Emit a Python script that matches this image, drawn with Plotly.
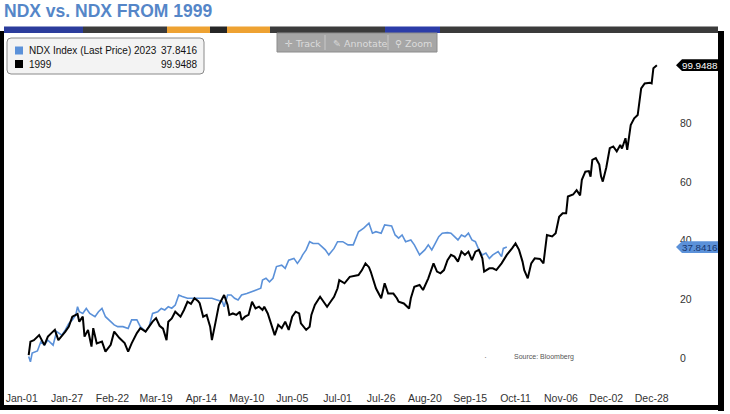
import plotly.graph_objects as go
from datetime import datetime

# ---------------- data ----------------
title_text = "NDX vs. NDX FROM 1999"
tick_labels = ["Jan-01", "Jan-27", "Feb-22", "Mar-19", "Apr-14", "May-10", "Jun-05",
               "Jul-01", "Jul-26", "Aug-20", "Sep-15", "Oct-11", "Nov-06", "Dec-02", "Dec-28"]
axis_year = 1999
y_ticks = [0, 20, 40, 60, 80]

series_names = ["NDX Index (Last Price) 2023", "1999"]
last_2023 = 37.8416
last_1999 = 99.9488

# day of year (0 = Jan-01) and % change from start
days_1999 = [4, 5, 7, 10, 13, 15, 17, 19, 21, 23, 25, 27, 29, 31, 32, 33, 35, 36, 38, 40,
             41, 43, 46, 48, 51, 53, 56, 59, 61, 63, 66, 68, 71, 73, 75, 77, 79, 81, 83, 84,
             86, 88, 91, 93, 95, 97, 99, 101, 102, 104, 106, 108, 109, 111, 113, 116, 118, 119, 121, 123,
             125, 126, 128, 130, 132, 134, 136, 138, 139, 141, 143, 145, 147, 149, 151, 153, 155, 157, 159, 160,
             163, 165, 166, 168, 171, 173, 175, 177, 179, 181, 182, 185, 188, 193, 195, 197, 199, 200, 202, 203,
             206, 208, 210, 213, 215, 216, 219, 222, 223, 225, 228, 230, 233, 236, 238, 240, 242, 244, 246, 248,
             250, 252, 254, 256, 258, 260, 262, 264, 265, 268, 270, 272, 275, 278, 281, 283, 285, 287, 288, 290,
             292, 294, 297, 299, 301, 304, 306, 308, 310, 312, 313, 316, 318, 320, 321, 323, 325, 326, 327, 329,
             331, 332, 333, 335, 337, 339, 341, 343, 344, 346, 347, 349, 351, 353, 355, 357, 360, 361, 362, 364]
vals_1999 = [1.0, 5.6, 6.1, 7.8, 4.4, 7.3, 8.5, 9.6, 6.1, 7.5, 9.0, 10.7, 14.1, 14.7, 15.0, 12.4, 14.1, 7.3, 9.6, 3.9,
             10.2, 5.0, 5.6, 2.2, 4.5, 9.0, 6.8, 5.1, 2.2, 5.0, 8.5, 10.2, 9.0, 10.7, 12.4, 13.6, 11.0, 10.0, 6.1, 12.4,
             13.5, 15.8, 14.1, 16.4, 19.2, 18.5, 20.4, 19.5, 18.7, 14.1, 14.7, 10.7, 6.1, 12.0, 18.1, 21.5, 18.1, 14.7, 15.2, 14.7,
             15.8, 13.0, 14.1, 14.7, 19.2, 16.9, 17.5, 16.4, 17.5, 15.2, 11.8, 7.8, 11.3, 10.2, 12.4, 9.6, 14.1, 15.8, 15.2, 11.8,
             9.6, 10.7, 14.7, 18.1, 20.9, 19.2, 17.5, 19.2, 20.9, 23.8, 26.6, 25.5, 27.7, 28.3, 30.0, 32.3, 31.0, 29.5, 26.0, 23.8,
             20.4, 25.5, 22.0, 22.0, 20.4, 19.2, 18.6, 16.9, 20.4, 24.3, 24.9, 23.2, 27.2, 32.3, 29.5, 28.9, 30.0, 33.4, 35.2, 34.6,
             32.9, 36.3, 35.2, 36.3, 33.4, 36.3, 36.9, 34.0, 29.5, 30.6, 30.6, 30.0, 32.3, 35.2, 37.4, 39.1, 36.9, 32.9, 30.0, 27.2,
             32.3, 34.0, 33.8, 32.3, 42.0, 41.5, 42.6, 48.2, 49.4, 49.4, 55.1, 55.8, 57.3, 55.5, 60.8, 63.6, 63.8, 61.9, 67.6, 68.2,
             66.0, 62.0, 60.2, 65.0, 71.6, 72.2, 70.5, 72.7, 71.5, 75.0, 71.0, 79.5, 81.8, 82.9, 92.0, 93.7, 93.9, 93.7, 98.9, 99.9488]

days_2023 = [4, 5, 6, 9, 11, 13, 15, 18, 20, 23, 25, 27, 29, 31, 32, 33, 35, 37, 39, 42,
             44, 46, 48, 51, 53, 55, 58, 61, 63, 66, 68, 71, 73, 75, 78, 80, 82, 84, 86, 88,
             90, 92, 95, 97, 100, 103, 106, 109, 112, 115, 116, 118, 120, 122, 124, 126, 129, 132, 135, 137,
             138, 140, 142, 144, 146, 149, 151, 153, 156, 158, 160, 161, 163, 165, 167, 170, 172, 174, 176, 179,
             181, 184, 187, 190, 193, 196, 199, 201, 203, 206, 208, 212, 214, 216, 218, 220, 223, 225, 228, 231,
             233, 235, 237, 239, 241, 244, 246, 248, 250, 252, 254, 256, 258, 260, 262, 264, 266, 268, 270, 273,
             275, 276, 278]
vals_2023 = [0.5, -1.3, 1.7, 2.4, 5.6, 4.4, 6.1, 4.4, 9.0, 7.8, 9.6, 11.8, 13.0, 14.7, 17.5, 15.8, 15.2, 16.9, 15.2, 14.1,
             15.8, 16.9, 14.1, 12.4, 11.3, 10.7, 10.7, 10.1, 13.0, 13.0, 10.7, 9.0, 10.7, 15.2, 15.8, 16.9, 16.4, 17.5, 17.0, 18.1,
             21.5, 21.0, 20.4, 20.4, 20.4, 20.4, 20.4, 20.4, 19.8, 19.2, 17.5, 21.5, 21.5, 20.4, 19.8, 21.5, 22.0, 22.6, 23.2, 23.8,
             26.6, 27.2, 26.0, 27.2, 31.2, 31.7, 30.6, 33.4, 34.0, 32.3, 34.0, 35.2, 36.9, 39.7, 39.1, 39.1, 38.0, 36.9, 35.2, 37.4,
             39.7, 39.7, 38.6, 38.6, 43.1, 44.3, 46.0, 42.6, 43.1, 42.6, 45.4, 45.1, 42.0, 40.9, 42.0, 39.7, 40.3, 38.6, 35.2, 36.9,
             38.6, 36.9, 39.1, 41.4, 42.6, 42.8, 42.6, 41.4, 40.3, 42.0, 41.4, 42.6, 40.3, 39.7, 36.9, 35.2, 35.8, 34.0, 35.2, 36.3,
             34.6, 37.4, 37.8416]

# ---------------- layout helpers ----------------
W, H = 730, 414
L, R, T, B = 4, 679, 33, 390          # plot area in pixels
PX_PER_DAY = 1.745
DAY0_PX = 21.7
ZERO_PX = 358.0
PX_PER_UNIT = 2.93


def px_x(p):
    return (p - L) / (R - L)


def px_y(p):
    return (B - p) / (B - T)


x_range = [(L - DAY0_PX) / PX_PER_DAY, (R - DAY0_PX) / PX_PER_DAY]
y_range = [(ZERO_PX - B) / PX_PER_UNIT, (ZERO_PX - T) / PX_PER_UNIT]

tick_vals = [datetime.strptime(f"{axis_year}-{t}", "%Y-%b-%d").timetuple().tm_yday - 1
             for t in tick_labels]

BLUE = "#5b91d9"
fig = go.Figure()
fig.add_trace(go.Scatter(x=days_2023, y=vals_2023, mode="lines", name=series_names[0],
                         line=dict(color=BLUE, width=1.6), showlegend=False))
fig.add_trace(go.Scatter(x=days_1999, y=vals_1999, mode="lines", name=series_names[1],
                         line=dict(color="#000000", width=2), showlegend=False))

shapes = []
annotations = []

# Bloomberg toolbar strip
strip = [(4, 83, "#2b3c9c"), (83, 167, "#3b3b3b"), (167, 210, "#eea232"), (210, 227, "#262626"),
         (227, 270, "#eea232"), (270, 385, "#3b3b3b"), (385, 440, "#2b3ca8"), (440, 718, "#3b3b3b")]
for a, b_, c in strip:
    shapes.append(dict(type="rect", xref="paper", yref="paper", x0=px_x(a), x1=px_x(b_),
                       y0=px_y(33), y1=px_y(26.5), fillcolor=c, line=dict(width=0), layer="above"))

# frame
frame_col = "#000000"
shapes += [
    dict(type="rect", xref="paper", yref="paper", x0=px_x(0), x1=px_x(4), y0=px_y(410), y1=px_y(31),
         fillcolor=frame_col, line=dict(width=0), layer="above"),
    dict(type="rect", xref="paper", yref="paper", x0=px_x(718), x1=px_x(724), y0=px_y(411), y1=px_y(31),
         fillcolor=frame_col, line=dict(width=0), layer="above"),
    dict(type="rect", xref="paper", yref="paper", x0=px_x(0), x1=px_x(724), y0=px_y(410), y1=px_y(405),
         fillcolor=frame_col, line=dict(width=0), layer="above"),
]

# Track / Annotate / Zoom box
shapes.append(dict(type="rect", xref="paper", yref="paper", x0=px_x(277), x1=px_x(437),
                   y0=px_y(52), y1=px_y(33), fillcolor="#a6a6a6", line=dict(color="#8c8c8c", width=1),
                   layer="above"))
for sep in (325, 388):
    shapes.append(dict(type="line", xref="paper", yref="paper", x0=px_x(sep), x1=px_x(sep),
                       y0=px_y(50), y1=px_y(35), line=dict(color="#c8c8c8", width=1), layer="above"))
for txt, xp in (("✛ Track", 283), ("✎ Annotate", 331), ("⚲ Zoom", 393)):
    annotations.append(dict(text=txt, xref="paper", yref="paper", x=px_x(xp), y=px_y(43),
                            xanchor="left", yanchor="middle", showarrow=False,
                            font=dict(family="DejaVu Sans", size=9.5, color="#dcdcdc")))

# legend box
lx0, lx1, ly0, ly1, rr = 7, 204, 38, 74, 4
legend_path = (f"M {px_x(lx0 + rr)},{px_y(ly0)} L {px_x(lx1 - rr)},{px_y(ly0)} "
               f"Q {px_x(lx1)},{px_y(ly0)} {px_x(lx1)},{px_y(ly0 + rr)} "
               f"L {px_x(lx1)},{px_y(ly1 - rr)} Q {px_x(lx1)},{px_y(ly1)} {px_x(lx1 - rr)},{px_y(ly1)} "
               f"L {px_x(lx0 + rr)},{px_y(ly1)} Q {px_x(lx0)},{px_y(ly1)} {px_x(lx0)},{px_y(ly1 - rr)} "
               f"L {px_x(lx0)},{px_y(ly0 + rr)} Q {px_x(lx0)},{px_y(ly0)} {px_x(lx0 + rr)},{px_y(ly0)} Z")
shapes.append(dict(type="path", xref="paper", yref="paper", path=legend_path,
                   fillcolor="#f3f3f3", line=dict(color="#8a8a8a", width=1), layer="above"))
leg_font = dict(family="Liberation Sans", size=10, color="#111111")
for i, (name, col, val) in enumerate(((series_names[0], BLUE, last_2023),
                                      (series_names[1], "#000000", last_1999))):
    yc = 50.5 + 13.5 * i
    shapes.append(dict(type="rect", xref="paper", yref="paper", x0=px_x(15), x1=px_x(23),
                       y0=px_y(yc + 4), y1=px_y(yc - 4), fillcolor=col, line=dict(width=0), layer="above"))
    annotations.append(dict(text=name, xref="paper", yref="paper", x=px_x(26.5), y=px_y(yc),
                            xanchor="left", yanchor="middle", showarrow=False, font=leg_font))
    annotations.append(dict(text=f"{val:.4f}", xref="paper", yref="paper", x=px_x(199.5), y=px_y(yc),
                            xanchor="right", yanchor="middle", showarrow=False, font=leg_font))

# right-side value tags
half = 5.8 / PX_PER_UNIT
for val, bg, fg in ((last_1999, "#000000", "#ffffff"), (last_2023, BLUE, "#17366e")):
    tag = (f"M {px_x(676)},{val} L {px_x(682)},{val + half} L {px_x(718)},{val + half} "
           f"L {px_x(718)},{val - half} L {px_x(682)},{val - half} Z")
    shapes.append(dict(type="path", xref="paper", yref="y", path=tag, fillcolor=bg,
                       line=dict(width=0), layer="above"))
    annotations.append(dict(text=f"{val:.4f}", xref="paper", yref="y", x=px_x(699.5), y=val,
                            xanchor="center", yanchor="middle", showarrow=False,
                            font=dict(family="Liberation Sans", size=9.8, color=fg)))

# source note
annotations.append(dict(text="Source: Bloomberg", xref="paper", yref="paper", x=px_x(512), y=px_y(357),
                        xanchor="left", yanchor="middle", showarrow=False,
                        font=dict(family="Liberation Sans", size=7, color="#555555")))
annotations.append(dict(text="·", xref="paper", yref="paper", x=px_x(485), y=px_y(357),
                        xanchor="center", yanchor="middle", showarrow=False,
                        font=dict(family="Liberation Sans", size=9, color="#888888")))

# title
annotations.append(dict(text=f"<b>{title_text}</b>", xref="paper", yref="paper", x=px_x(2), y=px_y(10.5),
                        xanchor="left", yanchor="middle", showarrow=False,
                        font=dict(family="Liberation Sans", size=17.5, color="#5586c8")))

fig.update_layout(
    width=W, height=H,
    margin=dict(l=L, r=W - R, t=T, b=H - B, pad=0),
    paper_bgcolor="#ffffff", plot_bgcolor="#ffffff",
    shapes=shapes, annotations=annotations,
    showlegend=False,
    xaxis=dict(range=x_range, tickmode="array", tickvals=tick_vals, ticktext=tick_labels,
               showgrid=False, zeroline=False, showline=False, ticks="",
               tickfont=dict(family="Liberation Sans", size=10.5, color="#333333")),
    yaxis=dict(range=y_range, side="right", tickmode="array", tickvals=y_ticks,
               showgrid=False, zeroline=False, showline=False, ticks="",
               tickfont=dict(family="Liberation Sans", size=10.5, color="#333333")),
)

fig.write_html("out.html", config={"displayModeBar": False})
